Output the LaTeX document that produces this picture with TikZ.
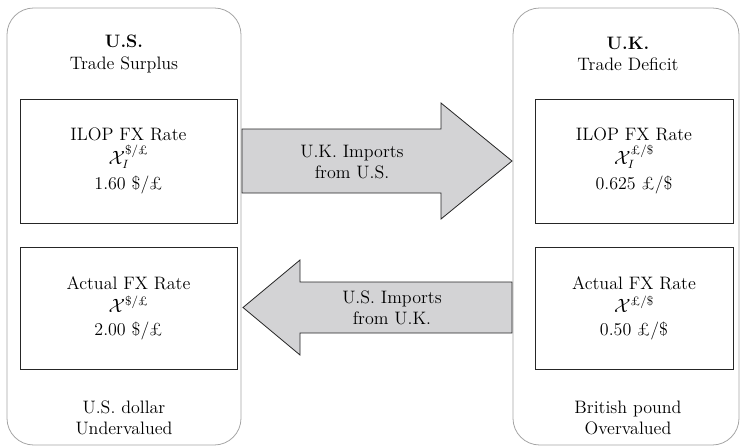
\documentclass[tikz,border=0pt]{standalone}
\usepackage{amsmath}
\usepackage{amssymb}
\usepackage{xcolor}
\usepackage{tikz}
\usetikzlibrary{positioning}

\definecolor{arrowgray}{RGB}{211,211,213}
\definecolor{panelgray}{RGB}{165,165,165}

\tikzset{
  panel/.style={draw=panelgray, rounded corners=20pt, line width=0.6pt},
  ratebox/.style={draw=black!85, line width=0.6pt, align=center,
    font=\fontsize{13.5}{15}\selectfont},
  bigarrow/.style={draw=black!85, fill=arrowgray, line width=0.6pt},
  lbl/.style={align=center, font=\fontsize{13.5}{16}\selectfont},
}

\begin{document}
\begin{tikzpicture}[x=0.75pt,y=-0.75pt]
\useasboundingbox (0,0) rectangle (740,447);
%% country panels
\draw[panel] (7,8) rectangle (241,445);
\draw[panel] (513,8) rectangle (739,445);
%%
\node[lbl] (ustitle) at (124,54) {\textbf{U.S.}\\Trade Surplus};
\node[lbl] (uktitle) at (628,54) {\textbf{U.K.}\\Trade Deficit};
%%
\node[ratebox, minimum width=162.75pt, minimum height=93pt] (usilop) at (128.5,161)
  {ILOP FX Rate\\[2.5pt]$\mathcal{X}_I^{\text{\$/£}}$\\[4pt]1.60 \$/£};
\node[ratebox, minimum width=162.75pt, minimum height=91.5pt] (usact) at (128.5,308)
  {Actual FX Rate\\[2.5pt]$\mathcal{X}^{\text{\$/£}}$\\[2pt]2.00 \$/£};
\node[ratebox, minimum width=148.5pt, minimum height=93pt] (ukilop) at (634,161)
  {ILOP FX Rate\\[2.5pt]$\mathcal{X}_I^{\text{£/\$}}$\\[4pt]0.625 £/\$};
\node[ratebox, minimum width=148.5pt, minimum height=91.5pt] (ukact) at (634,308)
  {Actual FX Rate\\[2.5pt]$\mathcal{X}^{\text{£/\$}}$\\[2pt]0.50 £/\$};
%%
\node[lbl] (usnote) at (124,418) {U.S. dollar\\Undervalued};
\node[lbl] (uknote) at (628,418) {British pound\\Overvalued};
%% trade flows
\draw[bigarrow] (242,129) -- (441,129) -- (441,103) -- (512,161)
  -- (441,219) -- (441,193) -- (242,193) -- cycle;
\node[lbl] (ukimp) at (352,162) {U.K. Imports\\from U.S.};
%%
\draw[bigarrow] (512,282) -- (300,282) -- (300,260) -- (243,307.5)
  -- (300,355) -- (300,333) -- (512,333) -- cycle;
\node[lbl] (usimp) at (392,308) {U.S. Imports\\from U.K.};
\end{tikzpicture}
\end{document}
